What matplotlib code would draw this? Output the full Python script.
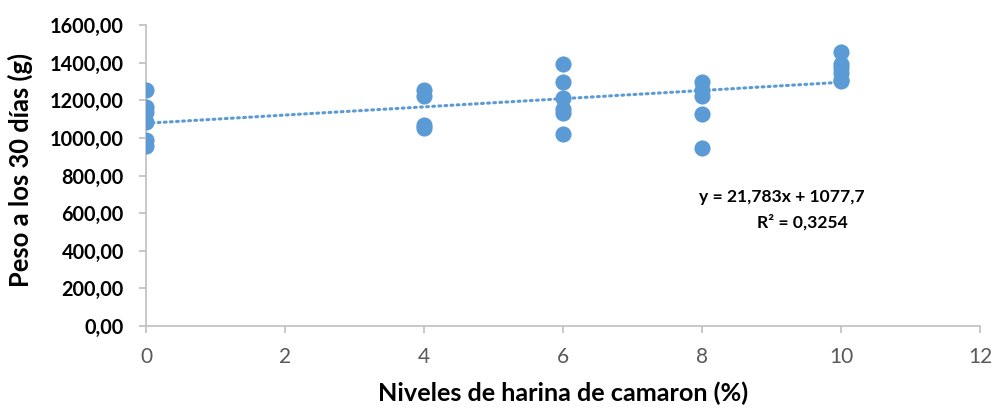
import numpy as np
import matplotlib.pyplot as plt

# niveles de harina (%) y peso a los 30 dias (g)
niveles = [0, 0, 0, 0, 0, 0,
           4, 4, 4, 4,
           6, 6, 6, 6, 6, 6,
           8, 8, 8, 8, 8,
           10, 10, 10, 10, 10, 10]
pesos = [1255, 1165, 1140, 1082, 990, 957,
         1252, 1220, 1066, 1052,
         1393, 1297, 1210, 1155, 1130, 1021,
         1297, 1255, 1222, 1127, 946,
         1457, 1395, 1370, 1345, 1310, 1300]

pendiente = 21.783
intercepto = 1077.7
ecuacion = "y = 21,783x + 1077,7"
r2_txt = "R² = 0,3254"

azul = "#5B9BD5"
gris = "#BFBFBF"

plt.rcParams["font.family"] = ["Lato", "DejaVu Sans"]

fig = plt.figure(figsize=(9.92, 4.08), dpi=100)
ax = fig.add_axes([146/992, 1-326/408, (980-146)/992, (326-25)/408])

ax.scatter(niveles, pesos, s=135, color=azul, zorder=3, linewidths=0)

xs = np.array([0, 10])
ax.plot(xs, pendiente*xs + intercepto, color=azul, lw=2.2, ls=(0, (0.6, 1.4)),
        dash_capstyle="round", zorder=2)

ax.set_xlim(0, 12)
ax.set_ylim(0, 1600)
ax.set_xticks(range(0, 13, 2))
ax.set_yticks(range(0, 1601, 200))
ax.set_yticklabels([f"{v},00" for v in range(0, 1601, 200)], fontweight="bold", fontsize=14.3)
ax.set_xticklabels([str(v) for v in range(0, 13, 2)], fontsize=15, color="#595959")

for s in ["top", "right"]:
    ax.spines[s].set_visible(False)
for s in ["left", "bottom"]:
    ax.spines[s].set_color(gris)
    ax.spines[s].set_linewidth(1.2)
ax.tick_params(axis="both", color=gris, width=1.2, length=5)
ax.tick_params(axis="y", pad=11)
ax.tick_params(axis="x", pad=10)

ax.set_ylabel("Peso a los 30 días (g)", fontweight="bold", fontsize=18.4, va="center")
ax.yaxis.set_label_coords(-0.151, 0.518)
ax.set_xlabel("Niveles de harina de camaron (%)", fontweight="bold", fontsize=18.2, va="center")
ax.xaxis.set_label_coords(0.5, -0.223)

ax.text(9.15, 686, ecuacion, ha="center", va="center", fontweight="bold", fontsize=12.6)
ax.text(9.45, 550, r2_txt, ha="center", va="center", fontweight="bold", fontsize=12.6)

fig.savefig("out.png", dpi=100)
